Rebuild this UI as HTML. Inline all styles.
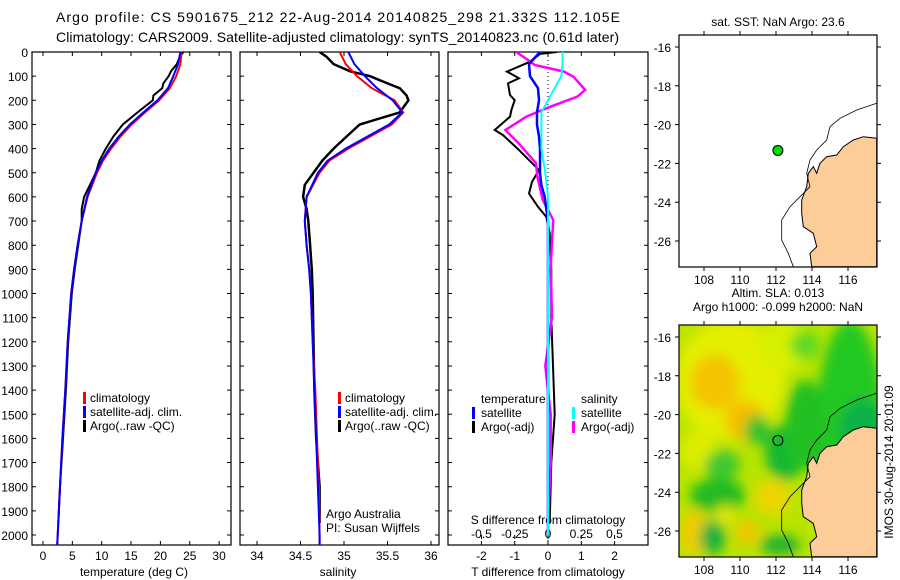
<!DOCTYPE html>
<html><head><meta charset="utf-8">
<style>
html,body{margin:0;padding:0;background:#fff;}
svg{display:block;font-family:"Liberation Sans",sans-serif;}
text{fill:#000;}
</style></head>
<body>
<svg id="fig" width="900" height="580" viewBox="0 0 900 580" xmlns="http://www.w3.org/2000/svg">
<defs>
<filter id="blur" x="-20%" y="-20%" width="140%" height="140%"><feGaussianBlur stdDeviation="6"/></filter>
<clipPath id="mapclip2"><rect x="679" y="325" width="198" height="232"/></clipPath>
<clipPath id="mapclip1"><rect x="679" y="35" width="198" height="232"/></clipPath>
<clipPath id="clip1"><rect x="32" y="52" width="199" height="493"/></clipPath>
<clipPath id="clip2"><rect x="240" y="52" width="199" height="493"/></clipPath>
<clipPath id="clip3"><rect x="448" y="52" width="200" height="493"/></clipPath>
</defs>
<text x="56" y="22" font-size="14" textLength="564">Argo profile: CS 5901675_212 22-Aug-2014 20140825_298 21.332S 112.105E</text>
<text x="56" y="42" font-size="14" textLength="563">Climatology: CARS2009. Satellite-adjusted climatology: synTS_20140823.nc (0.61d later)</text>
<g id="p1"></g>
<g id="p2"></g>
<g id="p3"></g>
<g id="m1"></g>
<g id="m2"></g>
</svg>
<script>
// ---- data ----
const depthTicks = [0,100,200,300,400,500,600,700,800,900,1000,1100,1200,1300,1400,1500,1600,1700,1800,1900,2000];
const tempTicks = [0,5,10,15,20,25,30];
const salTicks = [34,34.5,35,35.5,36];
const tdiffTicks = [-2,-1,0,1,2];
const sdiffTicks = [-0.5,-0.25,0,0.25,0.5];
const sdiffTickLabels = ["-0.5","-0.25","0","0.25","0.5"];
const lonTicks = [108,110,112,114,116];
const latTicks = [-16,-18,-20,-22,-24,-26];

const depthClim = [0,50,100,150,200,250,300,350,400,450,500,600,700,800,900,1000,1200,1400,1600,1800,2000,2050];
const tempClim = [23.6,23.4,22.7,21.6,19.8,17.4,15.1,13.2,11.6,10.2,9.2,7.6,6.6,5.9,5.3,4.8,4.2,3.8,3.3,2.9,2.5,2.4];
const tempSat = [23.4,23.0,22.2,21.3,19.5,17.1,14.8,12.9,11.3,10.0,9.0,7.5,6.6,5.9,5.3,4.8,4.2,3.8,3.3,2.9,2.5,2.4];
const salClim = [34.95,35.02,35.15,35.32,35.58,35.68,35.55,35.30,35.05,34.83,34.72,34.57,34.55,34.57,34.6,34.62,34.64,34.67,34.69,34.71,34.72,34.72];
const salSat = [35.05,35.12,35.24,35.38,35.56,35.67,35.52,35.27,35.02,34.81,34.70,34.57,34.55,34.57,34.6,34.62,34.64,34.66,34.68,34.7,34.72,34.72];

const depthArgo = [0,20,50,80,100,130,150,180,200,250,300,350,400,450,500,550,600,650,700,800,900,1000,1200,1400,1600,1800,1950];
const tempArgo = [23.9,23.3,22.8,21.8,21.4,20.5,20.3,18.8,18.7,16.1,13.6,12.0,10.7,9.6,9.0,8.0,7.0,6.6,6.6,6.0,5.4,4.9,4.3,3.9,3.4,2.9,2.6];
const salArgo = [34.72,34.8,34.88,35.07,35.3,35.5,35.64,35.72,35.74,35.64,35.18,35.03,34.88,34.75,34.65,34.55,34.53,34.57,34.59,34.61,34.63,34.64,34.65,34.66,34.68,34.72,34.72];

const depthTdSat = [0,50,100,150,200,250,300,350,400,500,550,600,650,700,1000,1500,2000];
const tdiffSat = [-0.24,-0.57,-0.54,-0.3,-0.27,-0.33,-0.33,-0.27,-0.24,-0.24,-0.2,-0.1,-0.05,0,0,0,0];
const depthSdSat = [0,50,100,150,200,250,300,400,500,600,700,1000,1500,2000];
const sdiffSat = [0.11,0.11,0.1,0.05,0,-0.05,-0.05,-0.05,-0.02,0,0,0,0,0];
const depthTdArgo = [0,8,40,81,109,130,178,199,240,268,323,344,406,489,538,586,641,683,750,900,1100,1300,1500,1700,1950];
const tdiffArgo = [0.27,-0.24,-0.54,-1.23,-0.87,-1.2,-1.14,-1.0,-1.1,-1.14,-1.6,-1.35,-0.87,-0.27,-0.48,-0.57,-0.3,-0.05,0.05,0.1,0.1,0.15,0.2,0.1,0.05];
const depthSdArgo = [0,33,54,81,102,157,185,226,267,323,378,461,516,613,696,779,900,1100,1300,1500,1700,1950];
const sdiffArgo = [-0.24,-0.15,-0.1,0.12,0.19,0.28,0.22,0.02,-0.16,-0.32,-0.22,-0.09,-0.08,-0.04,0.04,0.03,0.02,0.03,-0.02,0.02,0.02,0.0];

const argoLon = 112.105, argoLat = -21.332;

// ---- helpers ----
const NS="http://www.w3.org/2000/svg";
function mk(tag, parent){const e=document.createElementNS(NS,tag);parent.appendChild(e);return e;}
const yD = d => 52 + d*0.2415;
const xT = t => 43 + t*5.87;
const xS = s => 257 + (s-34)*87;
const xTd = v => 548 + v*33.3;
const xSd = v => 548 + v*133;
const lonX = l => 704 + (l-108)*18;
const latY = (l,off) => 47 + off + (-16-l)*19.4;

function drawFrame(g,x0,x1,name){
  const r=mk('rect',g);
  r.setAttribute('x',x0);r.setAttribute('y',52);r.setAttribute('width',x1-x0);r.setAttribute('height',493);
  r.setAttribute('fill','none');r.setAttribute('stroke','#000');r.setAttribute('stroke-width','1.2');
  
  
  for(const d of depthTicks){
    const y=yD(d);
    const t=mk('path',g);
    t.setAttribute('d',`M${x0} ${y}h4M${x1} ${y}h-4`);t.setAttribute('stroke','#000');
    
    
  }
}
function profile(g,ds,vs,fx,color,w,name,clip){
  const p=mk('polyline',g);
  p.setAttribute('points',ds.map((d,i)=>fx(vs[i]).toFixed(1)+','+yD(d).toFixed(1)).join(' '));
  p.setAttribute('fill','none');p.setAttribute('stroke',color);p.setAttribute('stroke-width',w);
  p.setAttribute('clip-path','url(#'+clip+')');
  
  
}
function txt(g,x,y,s,size,anchor,name){
  const t=mk('text',g);t.setAttribute('x',x);t.setAttribute('y',y);t.setAttribute('font-size',size);
  if(anchor)t.setAttribute('text-anchor',anchor);t.textContent=s;
  
  
  return t;
}
function marker(g,x,y,color,name){
  const r=mk('rect',g);r.setAttribute('x',x);r.setAttribute('y',y-10);r.setAttribute('width',3);r.setAttribute('height',12);r.setAttribute('fill',color);
  
  
}

// ---- panel 1 ----
const p1=document.getElementById('p1');
drawFrame(p1,32,231,'temperature-panel');
for(const d of depthTicks){txt(p1,28,yD(d)+5,String(d),12,'end','depth-tick-label');}
for(const t of tempTicks){
  const x=xT(t);const k=mk('path',p1);k.setAttribute('d',`M${x} 52v4M${x} 545v-4`);k.setAttribute('stroke','#000');
  
  
  txt(p1,x,560,String(t),12,'middle','temperature-tick-label');
}
txt(p1,134,576,'temperature (deg C)',12,'middle','temperature-axis-title');
profile(p1,depthArgo,tempArgo,xT,'#000',2,'temperature-argo-line','clip1');
profile(p1,depthClim,tempClim,xT,'#f00',2,'temperature-climatology-line','clip1');
profile(p1,depthClim,tempSat,xT,'#00f',2,'temperature-satellite-line','clip1');
marker(p1,83,402,'#f00','legend-climatology-marker');txt(p1,90,402,'climatology',12,null,'legend-climatology');
marker(p1,83,416,'#00f','legend-satellite-marker');txt(p1,90,416,'satellite-adj. clim.',12,null,'legend-satellite');
marker(p1,83,430,'#000','legend-argo-marker');txt(p1,90,430,'Argo(..raw -QC)',12,null,'legend-argo');

// ---- panel 2 ----
const p2=document.getElementById('p2');
drawFrame(p2,240,439,'salinity-panel');
for(const s of salTicks){
  const x=xS(s);const k=mk('path',p2);k.setAttribute('d',`M${x} 52v4M${x} 545v-4`);k.setAttribute('stroke','#000');
  
  
  txt(p2,x,560,String(s),12,'middle','salinity-tick-label');
}
txt(p2,338,576,'salinity',12,'middle','salinity-axis-title');
profile(p2,depthArgo,salArgo,xS,'#000',2.5,'salinity-argo-line','clip2');
profile(p2,depthClim,salClim,xS,'#f00',2,'salinity-climatology-line','clip2');
profile(p2,depthClim,salSat,xS,'#00f',2,'salinity-satellite-line','clip2');
marker(p2,338,402,'#f00','legend-climatology-marker');txt(p2,345,402,'climatology',12,null,'legend-climatology');
marker(p2,338,416,'#00f','legend-satellite-marker');txt(p2,345,416,'satellite-adj. clim.',12,null,'legend-satellite');
marker(p2,338,430,'#000','legend-argo-marker');txt(p2,345,430,'Argo(..raw -QC)',12,null,'legend-argo');
txt(p2,326,518,'Argo Australia',12,null,'credit-argo-australia');
txt(p2,326,532,'PI: Susan Wijffels',12,null,'credit-pi');

// ---- panel 3 ----
const p3=document.getElementById('p3');
drawFrame(p3,448,648,'difference-panel');
const z=mk('path',p3);z.setAttribute('d',`M548 52V545`);z.setAttribute('stroke','#000');z.setAttribute('stroke-dasharray','1,3');


for(const v of tdiffTicks){
  const x=xTd(v);const k=mk('path',p3);k.setAttribute('d',`M${x} 52v4M${x} 545v-4`);k.setAttribute('stroke','#000');
  
  
  txt(p3,x,560,String(v),12,'middle','tdiff-tick-label');
}
sdiffTicks.forEach((v,i)=>{
  const x=xSd(v);const k=mk('path',p3);k.setAttribute('d',`M${x} 539v-4`);k.setAttribute('stroke','#000');
  
  
  txt(p3,x,538,sdiffTickLabels[i],12,'middle','sdiff-tick-label');
});
txt(p3,548,524,'S difference from climatology',12,'middle','sdiff-axis-title');
txt(p3,548,576,'T difference from climatology',12,'middle','tdiff-axis-title');
profile(p3,depthTdArgo,tdiffArgo,xTd,'#000',2,'tdiff-argo-line','clip3');
profile(p3,depthSdArgo,sdiffArgo,xSd,'#f0f',2.5,'sdiff-argo-line','clip3');
profile(p3,depthTdSat,tdiffSat,xTd,'#00f',2.5,'tdiff-satellite-line','clip3');
profile(p3,depthSdSat,sdiffSat,xSd,'#0ff',2,'sdiff-satellite-line','clip3');
txt(p3,481,403,'temperature',12,null,'legend-temperature-heading');
marker(p3,472,417,'#00f','legend-t-satellite-marker');txt(p3,481,417,'satellite',12,null,'legend-t-satellite');
marker(p3,472,431,'#000','legend-t-argo-marker');txt(p3,481,431,'Argo(-adj)',12,null,'legend-t-argo');
txt(p3,581,403,'salinity',12,null,'legend-salinity-heading');
marker(p3,572,417,'#0ff','legend-s-satellite-marker');txt(p3,581,417,'satellite',12,null,'legend-s-satellite');
marker(p3,572,431,'#f0f','legend-s-argo-marker');txt(p3,581,431,'Argo(-adj)',12,null,'legend-s-argo');

// ---- maps ----
const landPts=[[876.7,138.3],[863.3,136.7],[853.3,140],[843.3,146.7],[836.7,155],[826.7,156.7],[820,163.3],[816.7,173.3],[813.3,166.7],[808.3,173.3],[806.7,186.7],[801.7,200],[801.7,213.3],[803.3,226.7],[813.3,233.3],[816.7,246.7],[810,253.3],[811.7,266.7],[876.7,266.7]];
const contourPts=[[876.7,103.3],[856.7,110],[840,118.3],[830,126.7],[826.7,140],[816.7,150],[810,160],[806.7,173.3],[810,186.7],[800,196.7],[790,206.7],[781.7,220],[781.7,240],[788.3,253.3],[793.3,266.7]];
function drawMap(g,off,title,filled){
  const clip = off? 'mapclip2':'mapclip1';
  const inner=mk('g',g);inner.setAttribute('clip-path','url(#'+clip+')');
  if(filled){
    const bg=mk('rect',inner);bg.setAttribute('x',679);bg.setAttribute('y',325);bg.setAttribute('width',198);bg.setAttribute('height',232);bg.setAttribute('fill','#b8e400');
    
    
    const bl=mk('g',inner);bl.setAttribute('filter','url(#blur)');
    const blobs=[[675,320,110,120,'#e4ee00'],[760,320,50,50,'#d8f000'],[815,320,70,240,'#22c822'],[790,330,30,30,'#60d820'],[690,355,50,55,'#f4c400'],[725,400,40,40,'#f5be00'],[680,430,35,40,'#ddec00'],[705,450,35,30,'#40c830'],[690,478,55,35,'#22bb22'],[715,505,20,20,'#e0e800'],[755,480,35,35,'#f0d400'],[680,510,30,45,'#f0cc00'],[745,415,25,30,'#30c030'],[765,425,40,55,'#18b830'],[785,380,40,90,'#20c020'],[700,520,25,35,'#18b040'],[735,520,25,25,'#f0c800'],[760,535,40,20,'#20b030'],[840,400,45,60,'#10b048']];
    for(const b of blobs){const e=mk('ellipse',bl);e.setAttribute('cx',b[0]+b[2]/2);e.setAttribute('cy',b[1]+b[3]/2);e.setAttribute('rx',b[2]/2);e.setAttribute('ry',b[3]/2);e.setAttribute('fill',b[4]);
      
      }
  }
  const land=mk('polygon',inner);land.setAttribute('points',landPts.map(p=>p[0]+','+(p[1]+off)).join(' '));
  land.setAttribute('fill','#fccc99');land.setAttribute('stroke','#000');land.setAttribute('stroke-width','1');
  
  
  const c=mk('polyline',inner);c.setAttribute('points',contourPts.map(p=>p[0]+','+(p[1]+off)).join(' '));
  c.setAttribute('fill','none');c.setAttribute('stroke','#000');c.setAttribute('stroke-width','0.8');
  
  
  const fr=mk('rect',g);fr.setAttribute('x',679);fr.setAttribute('y',35+off);fr.setAttribute('width',198);fr.setAttribute('height',232);
  fr.setAttribute('fill','none');fr.setAttribute('stroke','#000');fr.setAttribute('stroke-width','1.2');
  
  
  for(const l of lonTicks){const x=lonX(l);const k=mk('path',g);k.setAttribute('d',`M${x} ${35+off}v-4M${x} ${267+off}v4`);k.setAttribute('stroke','#000');
    
    
    txt(g,x,284+off,String(l),12,'middle','lon-tick-label');}
  for(const l of latTicks){const y=latY(l,off);const k=mk('path',g);k.setAttribute('d',`M679 ${y}h-4M877 ${y}h4`);k.setAttribute('stroke','#000');
    
    
    txt(g,671,y+5,String(l),12,'end','lat-tick-label');}
  const pt=mk('circle',g);pt.setAttribute('cx',lonX(argoLon));pt.setAttribute('cy',latY(argoLat,off));pt.setAttribute('r',5);
  pt.setAttribute('fill',filled?'none':'#00dd00');pt.setAttribute('stroke','#000');
  
  
  title.forEach((s,i)=>txt(g,778,(off?297:26)+i*14,s,12,'middle','map-title'));
}
drawMap(document.getElementById('m1'),0,['sat. SST: NaN Argo: 23.6'],false);
drawMap(document.getElementById('m2'),290,['Altim. SLA: 0.013','Argo h1000: -0.099 h2000: NaN'],true);
const imos=txt(document.getElementById('m2'),0,0,'IMOS 30-Aug-2014 20:01:09',12,'middle','imos-timestamp');
imos.setAttribute('transform','translate(893,462) rotate(-90)');
</script>
</body></html>
